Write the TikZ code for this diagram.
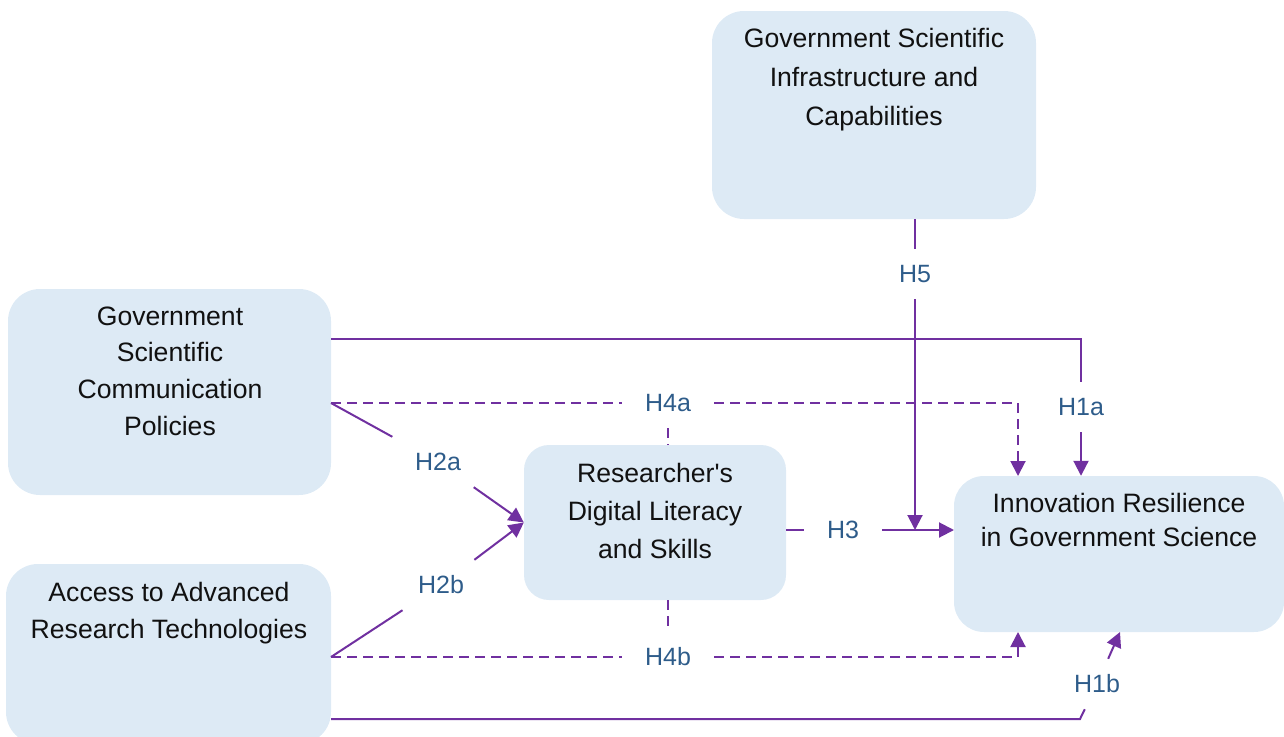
\documentclass[tikz,border=0pt]{standalone}
\usepackage{fontspec}
\setmainfont{Liberation Sans}
\newfontfamily\plainsans{Liberation Sans}
\usetikzlibrary{arrows.meta,calc}
\definecolor{boxfill}{HTML}{DDEAF5}
\definecolor{conncol}{HTML}{7030A0}
\definecolor{labcol}{HTML}{2E5C8A}
\definecolor{txtcol}{HTML}{111111}
\tikzset{
  box/.style={fill=boxfill, draw=none, rounded corners=#1, inner sep=0pt},
  box/.default=32pt,
  btext/.style={text=txtcol, align=center, font=\plainsans\fontsize{26.6}{#1}\selectfont, inner sep=0pt},
  hlab/.style={text=labcol, font=\plainsans\fontsize{25}{30}\selectfont, minimum height=50pt, inner xsep=23pt, inner ysep=0pt},
  conn/.style={draw=conncol, line width=2pt},
  dconn/.style={conn, dash pattern=on 10pt off 6pt},
  tipped/.style={-{Triangle[length=15pt,width=15pt]}}
}
\begin{document}
\begin{tikzpicture}[x=1pt,y=-1pt]
\useasboundingbox (0,0) rectangle (1284,736);
% boxes
\node[box, minimum width=324pt, minimum height=208pt] (infra) at (874,115) {};
\node[box, minimum width=323pt, minimum height=206pt] (comm) at (169.5,392) {};
\node[box, minimum width=325pt, minimum height=180pt] (acc) at (168.5,654) {};
\node[box=25pt, minimum width=262pt, minimum height=155pt] (dig) at (655,522.5) {};
\node[box=30pt, minimum width=330pt, minimum height=156pt] (inn) at (1119,554) {};
% texts
\node[btext=39pt] (tinfra) at (874,80) {Government Scientific\\Infrastructure and\\Capabilities};
\node[btext=36.7pt] (tcomm) at (170,371) {Government\\Scientific\\Communication\\Policies};
\node[btext=37.6pt] (tacc) at (169,613) {Access to Advanced\\Research Technologies};
\node[btext=38.3pt] (tdig) at (655,511) {Researcher's\\Digital Literacy\\and Skills};
\node[btext=34pt] (tinn) at (1119,520) {Innovation Resilience\\in Government Science};
% labels
\node[hlab] (l5) at (915,274) {H5};
\node[hlab] (l1a) at (1081,407) {H1a};
\node[hlab] (l4a) at (668,403) {H4a};
\node[hlab] (l2a) at (438,462) {H2a};
\node[hlab] (l2b) at (441,585) {H2b};
\node[hlab] (l3) at (843,530) {H3};
\node[hlab] (l4b) at (668,657) {H4b};
\node[hlab] (l1b) at (1097,684) {H1b};
% coordinates
\coordinate (s1a) at (331,339);
\coordinate (s4a) at (331,403);
\coordinate (s2b) at (331,657);
\coordinate (s4b) at (331,657);
\coordinate (s1b) at (331,719);
\coordinate (c1b) at (1080,719);
\coordinate (e1b) at (1120,632);
\coordinate (e4a) at (1018,476);
\coordinate (e4b) at (1018,632);
\coordinate (s3) at (786,530);
\coordinate (e3) at (954,530);
\coordinate (s5) at (915,219);
\coordinate (e5) at (915,530);
% H1a
\draw[conn] (s1a) -| (l1a);
\draw[conn,tipped] (l1a) -- (l1a |- inn.north);
% H4a
\draw[dconn] (s4a) -- (l4a);
\draw[dconn,tipped] (l4a) -| (e4a);
\draw[dconn] (l4a) -- (l4a |- dig.north);
% H2a / H2b
\draw[conn] (s4a) -- (l2a);
\draw[conn,tipped] (l2a) -- (dig.west);
\draw[conn] (s2b) -- (l2b);
\draw[conn,tipped] (l2b) -- (dig.west);
% H3
\draw[conn] (s3) -- (l3);
\draw[conn,tipped] (l3) -- (e3);
% H5
\draw[conn] (s5) -- (l5);
\draw[conn,tipped] (l5) -- (e5);
% H4b
\draw[dconn] (s4b) -- (l4b);
\draw[dconn,tipped] (l4b) -| (e4b);
\draw[dconn] (dig.south -| l4b) -- (l4b);
% H1b
\draw[conn] (s1b) -- (c1b) -- (l1b);
\draw[conn,tipped] (l1b) -- (e1b);
\end{tikzpicture}
\end{document}
